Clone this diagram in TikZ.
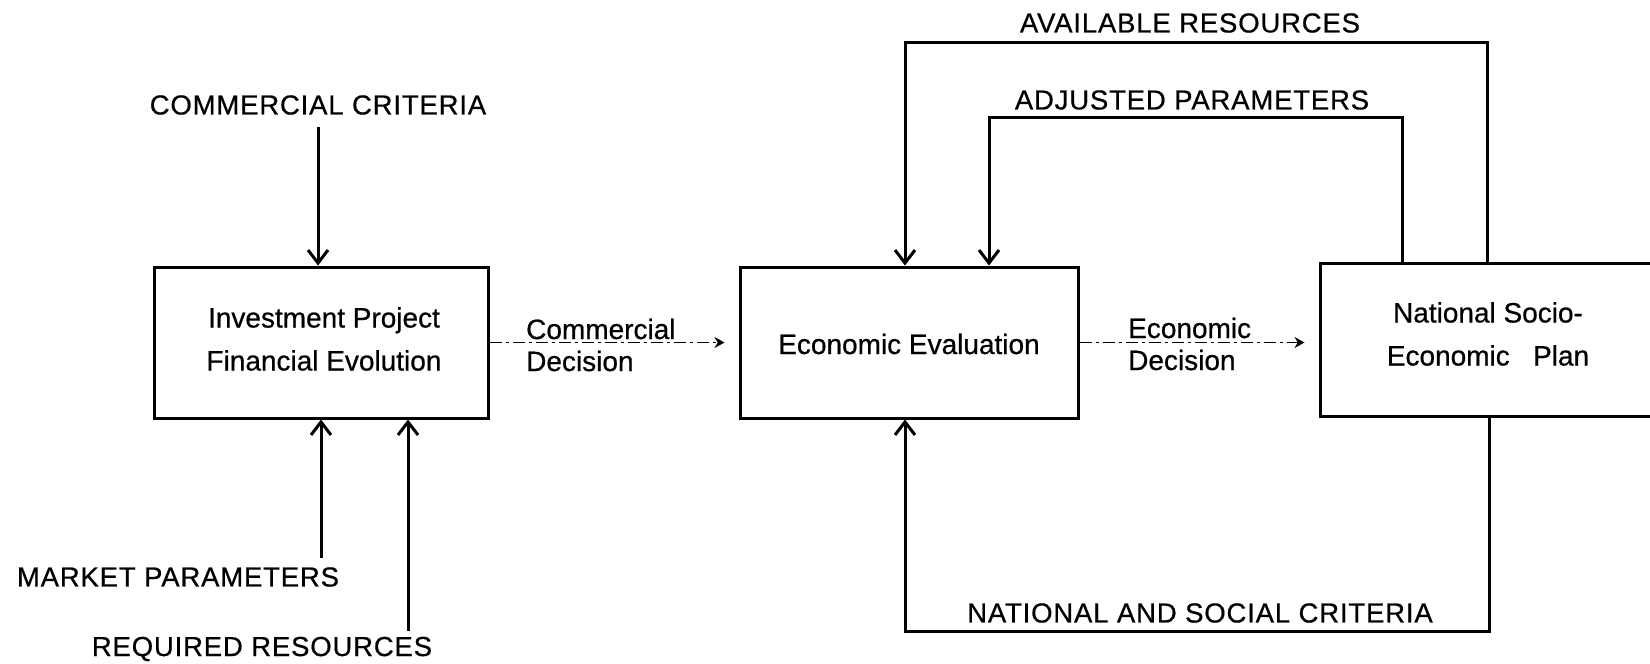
\documentclass[tikz,border=0pt]{standalone}
\usepackage{fontspec}
\setmainfont[FakeBold=0.6]{Liberation Sans}
\newfontfamily\capsfont[LetterSpace=3, FakeBold=0.6]{Liberation Sans}
\usetikzlibrary{arrows.meta}

\tikzset{
  block/.style={draw, line width=3pt, rectangle, inner sep=0pt},
  body/.style={inner sep=0pt, align=center, font=\fontsize{28}{43}\selectfont},
  side/.style={inner sep=0pt, align=left, anchor=west, font=\fontsize{28}{32}\selectfont},
  caps/.style={inner sep=0pt, font=\capsfont\fontsize{27.5}{32}\selectfont},
  feed/.style={line width=3pt, line join=miter,
    -{Straight Barb[length=13pt, width=20pt, line width=3pt]}},
  flow/.style={line width=1.6pt, dash pattern=on 12pt off 4pt on 3pt off 4pt,
    shorten >=14pt, -{Stealth[length=10pt, width=11pt]}},
}

\begin{document}
\begin{tikzpicture}[x=1pt, y=-1pt]
\useasboundingbox (0,0) rectangle (1650,664);

% the three stages
\node[block, minimum width=334pt, minimum height=151pt] (inv) at (321,342.5) {};
\node[body] (invtext) at (324,339) {Investment Project\\Financial Evolution};
\node[block, minimum width=338pt, minimum height=151pt] (econ) at (909,342.5) {};
\node[body] (econtext) at (909,344) {Economic Evaluation};
\node[block, minimum width=420pt, minimum height=153pt] (nat) at (1530,339.5) {};
\node[body] (nattext) at (1488,334) {National Socio-\\Economic\ \ \ Plan};

% external inputs and outputs
\node[caps] (cc) at (318,105) {COMMERCIAL CRITERIA};
\node[caps] (mp) at (178,577) {MARKET PARAMETERS};
\node[caps] (rr) at (262,649) {REQUIRED RESOURCES};
\node[caps] (avail) at (1190,23) {AVAILABLE RESOURCES};
\node[caps] (adj) at (1192,100) {ADJUSTED PARAMETERS};
\node[caps] (nsc) at (1200,613) {NATIONAL AND SOCIAL CRITERIA};

% decision labels on the flow lines
\node[side] (cd) at (526,345) {Commercial\\Decision};
\node[side] (ed) at (1128,344) {Economic\\Decision};

% free ends of the input lines
\coordinate (mpend) at (321,558);
\coordinate (rrend) at (408,631);
\coordinate (av1) at (1487,42);
\coordinate (av2) at (905,42);
\coordinate (ad1) at (1402,117);
\coordinate (ad2) at (989,117);
\coordinate (ns1) at (1489,631);
\coordinate (ns2) at (905,631);

% inputs to the financial evaluation
\draw[feed] (cc.south) ++(0,12) -- (cc.south |- inv.north);
\draw[feed] (mpend) -- (mpend |- inv.south);
\draw[feed] (rrend) -- (rrend |- inv.south);

% decision flow
\draw[flow] (inv.east) -- (econ.west);
\draw[flow] (econ.east) -- (econ.east -| nat.west);

% feedback from the national plan
\draw[feed] (av1 |- nat.north) -- (av1) -- (av2) -- (av2 |- econ.north);
\draw[feed] (ad1 |- nat.north) -- (ad1) -- (ad2) -- (ad2 |- econ.north);
\draw[feed] (ns1 |- nat.south) -- (ns1) -- (ns2) -- (ns2 |- econ.south);
\end{tikzpicture}
\end{document}
